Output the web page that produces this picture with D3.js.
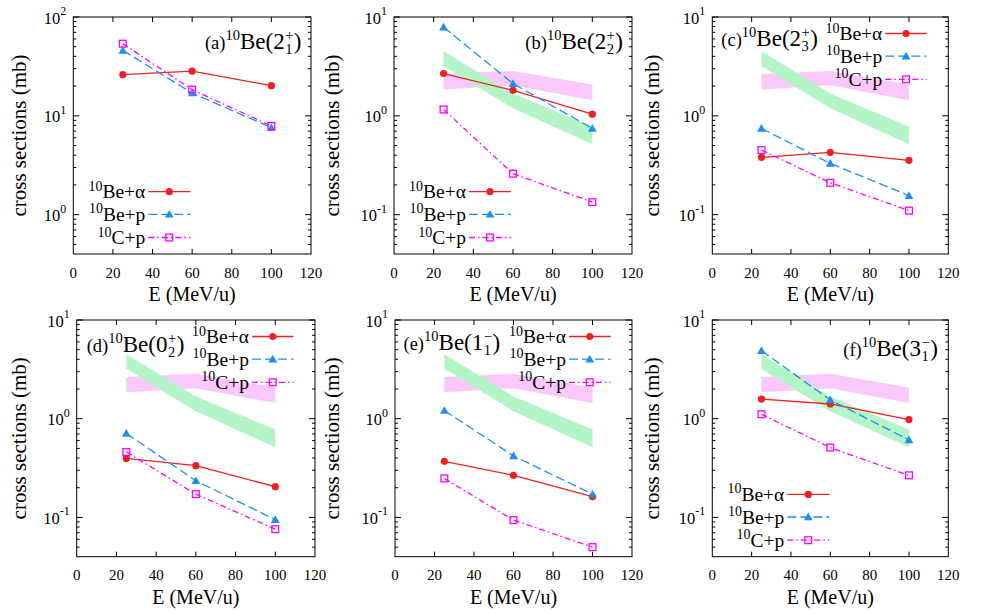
<!DOCTYPE html>
<html>
<head>
<meta charset="utf-8">
<script src="https://cdn.jsdelivr.net/npm/d3@7"></script>
</head>
<body style="margin:0;background:#fff">
<svg id="chart" width="981" height="614" style="display:block"></svg>
<script>
// ---------------- DATA ----------------
const energies = [25, 60, 100];
const xTicks = [0, 20, 40, 60, 80, 100, 120];
const panelLabels = ["(a)", "(b)", "(c)", "(d)", "(e)", "(f)"];
const stateBase = ["2", "2", "2", "0", "1", "3"];
const stateSup = ["+", "+", "+", "+", "\u2212", "\u2212"];
const stateSub = ["1", "2", "3", "2", "1", "1"];
const seriesNames = ["Be+\u03b1", "Be+p", "C+p"];
const seriesMass = ["10", "10", "10"];

const beAlpha = [
  [26.1, 28.4, 20.2],
  [2.68, 1.81, 1.04],
  [0.38, 0.427, 0.355],
  [0.396, 0.334, 0.205],
  [0.37, 0.267, 0.162],
  [1.58, 1.41, 0.98]
];
const beP = [
  [46, 17, 7.6],
  [7.9, 2.12, 0.746],
  [0.746, 0.33, 0.156],
  [0.71, 0.235, 0.095],
  [1.21, 0.42, 0.172],
  [4.89, 1.55, 0.61]
];
const cP = [
  [53.7, 18.4, 7.9],
  [1.16, 0.26, 0.134],
  [0.45, 0.21, 0.11],
  [0.46, 0.172, 0.076],
  [0.248, 0.094, 0.05],
  [1.11, 0.51, 0.267]
];
// experimental bands (panels b-f)
const greenUpper = [4.5, 1.68, 0.776];
const greenLower = [3.2, 1.19, 0.515];
const pinkUpper = [2.65, 2.85, 2.07];
const pinkLower = [1.85, 2.04, 1.44];

const yDomainA = [0.4, 100];
const yDomainOther = [0.04, 10];
const yMajorA = [1, 10, 100];
const yMajorOther = [0.1, 1, 10];

// ---------------- LAYOUT ----------------
const FONT = "Liberation Serif";
const frames = [
  {l: 73.3, r: 311, t: 17, b: 254},
  {l: 394, r: 632, t: 17, b: 254},
  {l: 712.3, r: 948.3, t: 17, b: 254},
  {l: 76.7, r: 315, t: 320, b: 556.7},
  {l: 395, r: 632, t: 320, b: 556.7},
  {l: 712.3, r: 948.3, t: 320, b: 556.7}
];
const titlePos = [
  {anchor: "end", dx: -9.5, dy: 31.5},
  {anchor: "end", dx: -9, dy: 31.5},
  {anchor: "start", dx: 9, dy: 29},
  {anchor: "start", dx: 10, dy: 31.5},
  {anchor: "start", dx: 8.5, dy: 30},
  {anchor: "end", dx: -10.5, dy: 35.5}
];
const legendPlace = ["bl", "bl", "tr", "tr", "tr", "bl"];
const yLabelX = [26, 339, 659];

const colors = ["#f02020", "#1e8ff0", "#ff00ff"];
const dashes = [null, "9,4", "6,3,1.5,3"];
const greenFill = "#b4f5c8";
const pinkFill = "#fbc8fb";

const svg = d3.select("#chart");

function txt(sel) { return sel.append("text").attr("font-family", FONT).attr("fill", "#000"); }

function drawMarker(g, type, cx, cy, color) {
  if (type === 0) {
    g.append("circle").attr("cx", cx).attr("cy", cy).attr("r", 3.6).attr("fill", color);
  } else if (type === 1) {
    const s = 4.4;
    g.append("path")
      .attr("d", `M${cx},${cy - s}L${cx + s},${cy + s * 0.75}L${cx - s},${cy + s * 0.75}Z`)
      .attr("fill", color);
  } else {
    g.append("rect").attr("x", cx - 3.4).attr("y", cy - 3.4).attr("width", 6.8).attr("height", 6.8)
      .attr("fill", "none").attr("stroke", color).attr("stroke-width", 1.3);
  }
}

function drawTitle(g, x0, y0, anchor, i) {
  const tg = g.append("g");
  const t = txt(tg).attr("x", 0).attr("y", 0);
  t.append("tspan").attr("font-size", 18.5).text(panelLabels[i]);
  t.append("tspan").attr("font-size", 14.5).attr("dy", -9).text("10");
  t.append("tspan").attr("font-size", 23).attr("dy", 9).text("Be(" + stateBase[i]);
  const w = t.node().getComputedTextLength();
  const s1 = t.append("tspan").attr("x", w + 0.5).attr("dy", -9).attr("font-size", 14.5).text(stateSup[i]);
  const s2 = t.append("tspan").attr("x", w + 0.5).attr("dy", 14).attr("font-size", 14.5).text(stateSub[i]);
  const sw = Math.max(s1.node().getComputedTextLength(), s2.node().getComputedTextLength());
  const p = t.append("tspan").attr("x", w + 1 + sw).attr("dy", -5).attr("font-size", 23).text(")");
  const total = w + 1 + sw + p.node().getComputedTextLength();
  const tx = anchor === "end" ? x0 - total : x0;
  tg.attr("transform", `translate(${tx},${y0})`);
}

function drawPanel(i) {
  const f = frames[i];
  const x = d3.scaleLinear().domain([0, 120]).range([f.l, f.r]);
  const yDom = i === 0 ? yDomainA : yDomainOther;
  const y = d3.scaleLog().domain(yDom).range([f.b, f.t]);
  const g = svg.append("g");

  if (i > 0) {
    const area = d3.area()
      .x((d, j) => x(energies[j]))
      .y0(d => y(d[0]))
      .y1(d => y(d[1]));
    g.append("path").datum(energies.map((e, j) => [pinkLower[j], pinkUpper[j]]))
      .attr("d", area).attr("fill", pinkFill);
    g.append("path").datum(energies.map((e, j) => [greenLower[j], greenUpper[j]]))
      .attr("d", area).attr("fill", greenFill);
  }

  const tk = g.append("g").attr("stroke", "#000").attr("stroke-width", 1);
  xTicks.forEach(v => {
    if (v === 0 || v === 120) return;
    tk.append("line").attr("x1", x(v)).attr("x2", x(v)).attr("y1", f.b).attr("y2", f.b - 5);
    tk.append("line").attr("x1", x(v)).attr("x2", x(v)).attr("y1", f.t).attr("y2", f.t + 5);
  });
  const yMaj = i === 0 ? yMajorA : yMajorOther;
  yMaj.forEach(v => {
    tk.append("line").attr("x1", f.l).attr("x2", f.l + 6).attr("y1", y(v)).attr("y2", y(v));
    tk.append("line").attr("x1", f.r).attr("x2", f.r - 6).attr("y1", y(v)).attr("y2", y(v));
  });
  const lo = Math.floor(Math.log10(yDom[0])), hi = Math.ceil(Math.log10(yDom[1]));
  for (let d = lo; d < hi; d++) {
    for (let m = 2; m <= 9; m++) {
      const v = m * Math.pow(10, d);
      if (v <= yDom[0] * 1.0001 || v >= yDom[1]) continue;
      tk.append("line").attr("x1", f.l).attr("x2", f.l + 3).attr("y1", y(v)).attr("y2", y(v));
      tk.append("line").attr("x1", f.r).attr("x2", f.r - 3).attr("y1", y(v)).attr("y2", y(v));
    }
  }

  g.append("rect").attr("x", f.l).attr("y", f.t).attr("width", f.r - f.l).attr("height", f.b - f.t)
    .attr("fill", "none").attr("stroke", "#000").attr("stroke-width", 1);

  xTicks.forEach(v => {
    txt(g).attr("x", x(v)).attr("y", f.b + 23.5).attr("text-anchor", "middle")
      .attr("font-size", 15).text(v);
  });
  yMaj.forEach(v => {
    const e = Math.round(Math.log10(v));
    const t = txt(g).attr("x", f.l - 7).attr("y", y(v) + 6.5).attr("text-anchor", "end")
      .attr("font-size", 16.5);
    t.append("tspan").text("10");
    t.append("tspan").attr("font-size", 12).attr("dy", -8.5).text(String(e));
  });

  const col = i % 3;
  txt(g)
    .attr("transform", `translate(${yLabelX[col]},${(f.t + f.b) / 2}) rotate(-90)`)
    .attr("text-anchor", "middle").attr("font-size", 21).text("cross sections (mb)");
  txt(g).attr("x", (f.l + f.r) / 2).attr("y", f.b + 47)
    .attr("text-anchor", "middle").attr("font-size", 20).text("E (MeV/u)");

  const all = [beAlpha[i], beP[i], cP[i]];
  const line = d3.line().x((d, j) => x(energies[j])).y(d => y(d));
  all.forEach((vals, s) => {
    const p = g.append("path").datum(vals).attr("d", line).attr("fill", "none")
      .attr("stroke", colors[s]).attr("stroke-width", 1.3);
    if (dashes[s]) p.attr("stroke-dasharray", dashes[s]);
    vals.forEach((v, j) => drawMarker(g, s, x(energies[j]), y(v), colors[s]));
  });

  const place = legendPlace[i];
  let ls, le, rows;
  if (place === "bl") {
    ls = f.l + 75; le = f.l + 117;
    rows = [f.b - 62.3, f.b - 39.7, f.b - 16.5];
  } else {
    ls = f.r - 63; le = f.r - 21.5;
    rows = [f.t + 16.5, f.t + 39.2, f.t + 62.3];
  }
  rows.forEach((ly, s) => {
    const p = g.append("line").attr("x1", ls).attr("x2", le).attr("y1", ly).attr("y2", ly)
      .attr("stroke", colors[s]).attr("stroke-width", 1.3);
    if (dashes[s]) p.attr("stroke-dasharray", dashes[s]);
    drawMarker(g, s, (ls + le) / 2, ly, colors[s]);
    const t = txt(g).attr("x", ls - 3).attr("y", ly + 6.5).attr("text-anchor", "end")
      .attr("font-size", 19.5);
    t.append("tspan").attr("font-size", 14).attr("dy", -7.5).text(seriesMass[s]);
    t.append("tspan").attr("dy", 7.5).text(seriesNames[s]);
  });

  const tp = titlePos[i];
  const tx = tp.anchor === "end" ? f.r + tp.dx : f.l + tp.dx;
  drawTitle(g, tx, f.t + tp.dy, tp.anchor, i);
}

for (let i = 0; i < 6; i++) drawPanel(i);
</script>
</body>
</html>
